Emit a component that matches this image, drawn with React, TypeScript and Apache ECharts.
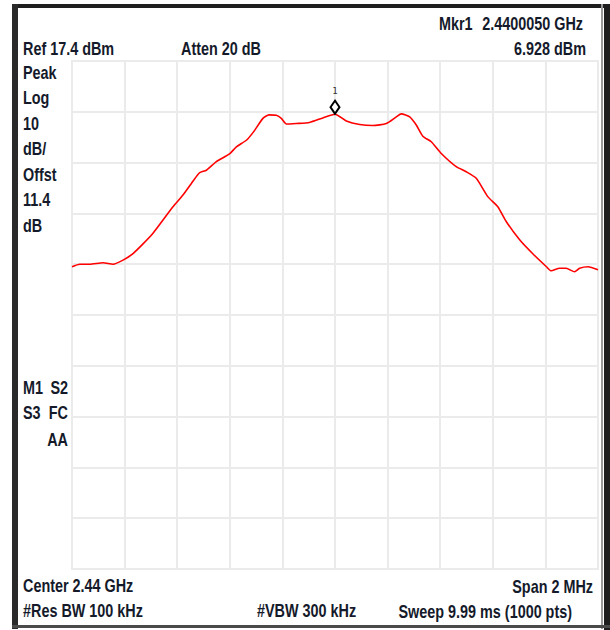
import React, { useEffect, useRef } from "react";
import * as echarts from "echarts";

// Frequency offset from centre (kHz) and trace level (dBm)
const freqKHz = [
  -1000, -971, -933, -882, -844, -806, -768, -730, -692, -654, -616, -578, -546, -515, -489, -451,
  -401, -375, -337, -309, -274, -251, -223, -204, -185, -147, -97, -46, 0, 43, 94, 144, 195, 233,
  252, 284, 309, 334, 366, 404, 461, 499, 537, 581, 619, 651, 702, 753, 804, 822, 854, 879, 911,
  930, 962, 1000,
];
const levelDbm = [
  -23.1, -22.6, -22.6, -22.3, -22.6, -21.8, -20.5, -18.6, -16.5, -13.9, -11.3, -9.0, -6.7, -4.6,
  -4.1, -2.4, -0.9, 0.5, 1.8, 3.5, 6.1, 6.8, 6.7, 6.1, 5.0, 5.1, 5.3, 6.2, 6.928, 5.6, 4.9, 4.7,
  5.1, 6.4, 7.0, 6.4, 4.8, 2.6, 1.5, -0.8, -3.4, -4.4, -5.7, -9.3, -11.3, -14.2, -17.8, -20.6,
  -23.1, -23.9, -23.4, -23.4, -24.1, -23.4, -23.1, -23.7,
];
const refLevel = 17.4;
const markerFreq = 0;
const markerLevel = 6.928;

const headerTexts = {
  mkr: "Mkr1",
  mkrFreq: "2.4400050 GHz",
  ref: "Ref 17.4 dBm",
  atten: "Atten 20 dB",
  mkrLevel: "6.928 dBm",
};
const leftColumn = ["Peak", "Log", "10", "dB/", "Offst", "11.4", "dB"];
const footerTexts = {
  center: "Center 2.44 GHz",
  span: "Span 2 MHz",
  rbw: "#Res BW 100 kHz",
  vbw: "#VBW 300 kHz",
  sweep: "Sweep 9.99 ms (1000 pts)",
};

const FONT = "'Liberation Sans', Arial, sans-serif";
const TXT = "#141a2a";

function txt(x: number, y: number, text: string, align: "left" | "right" = "left") {
  return {
    type: "text",
    x,
    y,
    scaleX: 0.8,
    style: {
      text,
      fill: TXT,
      font: `bold 18px ${FONT}`,
      align,
      verticalAlign: "middle",
    },
  };
}

export default function App() {
  const ref = useRef<HTMLDivElement>(null);
  useEffect(() => {
    document.body.style.margin = "0";
    const chart = echarts.init(ref.current!, null, { renderer: "svg" });
    const data = freqKHz.map((f, i) => [f, levelDbm[i] - refLevel]);
    const gridColor = "#ebebeb";
    const leftLines = leftColumn.map((t, i) => txt(23, 72 + i * 25.5, t));
    chart.setOption({
      animation: false,
      backgroundColor: "#ffffff",
      grid: { left: 72, top: 61, width: 526, height: 508, show: true, borderColor: gridColor, borderWidth: 2 },
      xAxis: {
        type: "value",
        min: -1000,
        max: 1000,
        interval: 200,
        axisLine: { show: false },
        axisTick: { show: false },
        axisLabel: { show: false },
        splitLine: { show: true, lineStyle: { color: gridColor, width: 2 } },
      },
      yAxis: {
        type: "value",
        min: -100,
        max: 0,
        interval: 10,
        axisLine: { show: false },
        axisTick: { show: false },
        axisLabel: { show: false },
        splitLine: { show: true, lineStyle: { color: gridColor, width: 2 } },
      },
      series: [
        {
          type: "line",
          data,
          showSymbol: false,
          smooth: 0.2,
          lineStyle: { color: "#ff0000", width: 1.6 },
          markPoint: {
            data: [{ coord: [markerFreq, markerLevel - refLevel] }],
            symbol: "diamond",
            symbolSize: [9, 13],
            symbolOffset: [0, -7],
            itemStyle: { color: "#ffffff", borderColor: "#000000", borderWidth: 2 },
            label: {
              show: true,
              formatter: "1",
              position: "top",
              distance: 4,
              color: "#333",
              fontSize: 9,
              fontFamily: "'DejaVu Sans Mono', monospace",
            },
          },
        },
      ],
      graphic: [
        // frame
        { type: "rect", shape: { x: 12, y: 4, width: 598, height: 4 }, style: { fill: "#1e1e1e" } },
        { type: "rect", shape: { x: 12, y: 4, width: 6, height: 625 }, style: { fill: "#2a2a2a" } },
        { type: "rect", shape: { x: 601, y: 4, width: 2, height: 625 }, style: { fill: "#9a9a9a" } },
        { type: "rect", shape: { x: 604, y: 4, width: 6, height: 626 }, style: { fill: "#1e1e1e" } },
        { type: "rect", shape: { x: 12, y: 625, width: 598, height: 3 }, style: { fill: "#4a4a4a" } },
        // header
        txt(439, 23, headerTexts.mkr),
        txt(583, 23, headerTexts.mkrFreq, "right"),
        txt(23, 48, headerTexts.ref),
        txt(181, 48, headerTexts.atten),
        txt(586, 48, headerTexts.mkrLevel, "right"),
        ...leftLines,
        txt(23, 387, "M1"),
        txt(68, 387, "S2", "right"),
        txt(23, 412, "S3"),
        txt(68, 412, "FC", "right"),
        txt(68, 439, "AA", "right"),
        // footer
        txt(23, 585, footerTexts.center),
        txt(593, 586, footerTexts.span, "right"),
        txt(23, 610, footerTexts.rbw),
        txt(257, 610, footerTexts.vbw),
        txt(572, 611, footerTexts.sweep, "right"),
      ],
    });
    return () => chart.dispose();
  }, []);
  return <div ref={ref} style={{ width: 610, height: 630 }} />;
}
